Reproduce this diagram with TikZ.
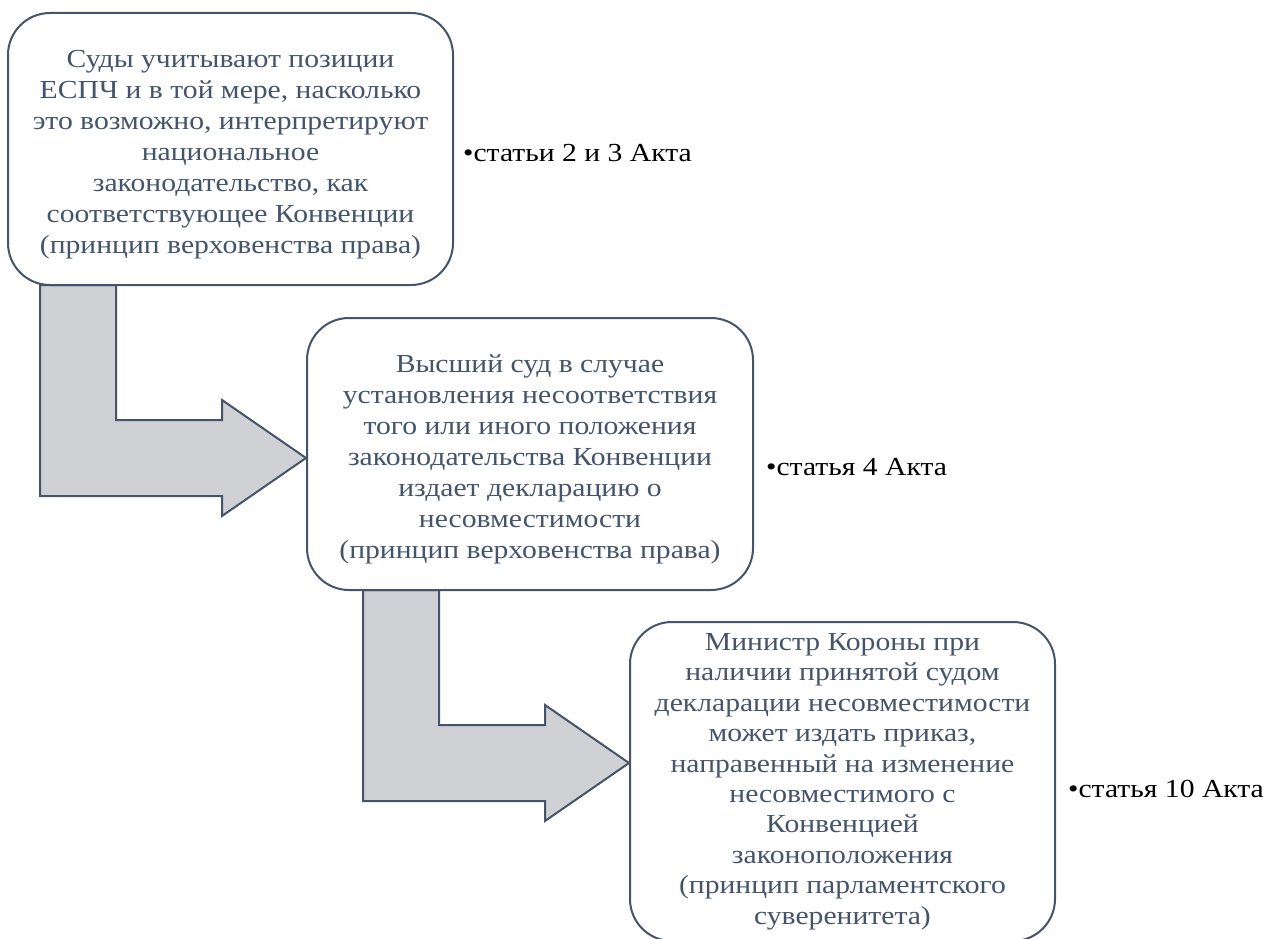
\documentclass[tikz,border=0pt]{standalone}
\usepackage{fontspec}
\setmainfont{Liberation Serif}[FakeStretch=1.14]
\usetikzlibrary{backgrounds}

\definecolor{slate}{HTML}{44546A}
\definecolor{arrowgrey}{HTML}{CFD1D5}
\newcommand{\topgap}{\rule{0pt}{28pt}}

\tikzset{
  stepbox/.style={draw=slate, line width=2pt, rounded corners=42pt, fill=white,
    text=slate, align=center, inner sep=0pt,
    font=\fontsize{26}{31}\selectfont},
  bentarrow/.style={draw=slate, line width=2pt, fill=arrowgrey, line join=miter},
  actref/.style={anchor=base west, inner sep=0pt, text=black,
    font=\fontsize{26}{31}\selectfont}
}

\begin{document}
\begin{tikzpicture}[x=1pt,y=-1pt]
  \path[use as bounding box, clip] (0,0) rectangle (1267,939);

  % the three stages
  \node[stepbox, minimum width=445pt, minimum height=272pt] (courts) at (230.5,149)
    {\topgap Суды учитывают позиции\\ЕСПЧ и в той мере, насколько\\это возможно, интерпретируют\\национальное\\законодательство, как\\соответствующее Конвенции\\(принцип верховенства права)};
  \node[stepbox, minimum width=446pt, minimum height=272pt] (highcourt) at (530,454)
    {\topgap Высший суд в случае\\установления несоответствия\\того или иного положения\\законодательства Конвенции\\издает декларацию о\\несовместимости\\(принцип верховенства права)};
  \node[stepbox, minimum width=425pt, minimum height=319pt,
        font=\fontsize{26}{30.4}\selectfont] (minister) at (842.5,781.5)
    {Министр Короны при\\наличии принятой судом\\декларации несовместимости\\может издать приказ,\\направенный на изменение\\несовместимого с\\Конвенцией\\законоположения\\(принцип парламентского\\суверенитета)};

  % articles of the Act
  \node[actref] (artA) at ([xshift=9pt,yshift=-13pt]courts.east) {•статьи 2 и 3 Акта};
  \node[actref] (artB) at ([xshift=12pt,yshift=-21pt]highcourt.east) {•статья 4 Акта};
  \node[actref] (artC) at ([xshift=12pt,yshift=-15.5pt]minister.east) {•статья 10 Акта};

  % bent arrows
  \coordinate (tipA) at ([yshift=-4pt]highcourt.west);
  \coordinate (tipB) at ([yshift=18.5pt]minister.west);
  \begin{scope}[on background layer]
    \foreach \t in {tipA,tipB}
      \draw[bentarrow] (\t) -- ++(-84,58) -- ++(0,-20) -- ++(-182,0) -- ++(0,-211)
        -- ++(76,0) -- ++(0,135) -- ++(106,0) -- ++(0,-20) -- cycle;
  \end{scope}
\end{tikzpicture}
\end{document}
